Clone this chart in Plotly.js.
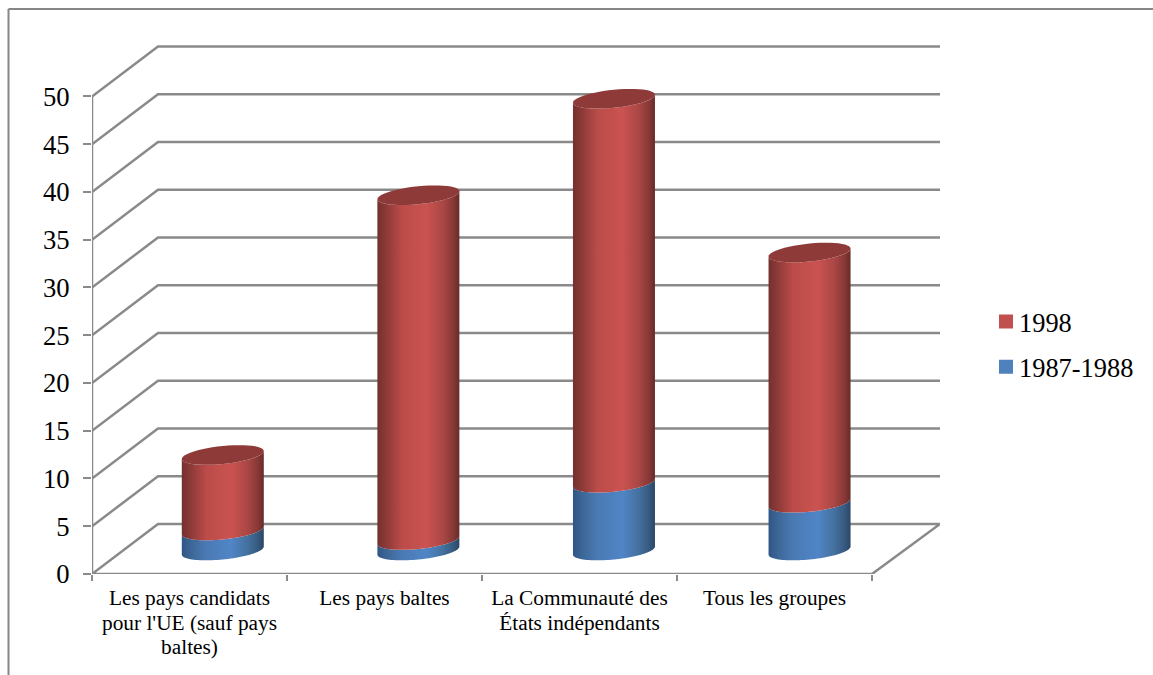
<!DOCTYPE html>
<html><head><meta charset="utf-8">
<script src="https://cdn.plot.ly/plotly-3.0.1.min.js"></script>
<style>html,body{margin:0;padding:0;background:#fff;overflow:hidden}#chart{width:1153px;height:675px}</style>
</head><body><div id="chart"></div>
<script>
const categories = ["Les pays candidats<br>pour l'UE (sauf pays<br>baltes)", "Les pays baltes", "La Communauté des<br>États indépendants", "Tous les groupes"];
const seriesNames = ["1998", "1987-1988"];
const values1998 = [7.9, 36.1, 40.2, 26.2];
const values1987 = [2.1, 1.1, 7.1, 5.0];
const yTicks = [0, 5, 10, 15, 20, 25, 30, 35, 40, 45, 50];

const W = 1153, H = 675, L = 92, R = 940, T = 44.5, B = 574;
const xMax = (R - L) / 195, yMax = (B - T) / 9.56;
const depthX = 66 / 195, depthY = 50 / 9.56;
const grey = '#8a8a8a', fontFam = '"Liberation Serif","Times New Roman",serif';
const traces = [];
const lineTrace = (x, y) => ({type:'scatter', mode:'lines', x, y, line:{color:grey, width:2.5}, hoverinfo:'skip', showlegend:false});

yTicks.forEach(v => {
  if (v === 0) traces.push(lineTrace([0, depthX, xMax, categories.length, 0], [0, depthY, depthY, 0, 0]));
  else traces.push(lineTrace([0, depthX, xMax], [v, v + depthY, v + depthY]));
});
traces.push(lineTrace([0, 0], [0, yTicks[yTicks.length - 1]]));

const rx = 41 / 195, ry = 9 / 9.56, skew = 4 / 9.56, baseY = depthY * 0.47;
const redScale = [[0,'#73302e'],[0.12,'#8f3b39'],[0.3,'#bb4c49'],[0.6,'#ca5350'],[0.8,'#aa4745'],[0.93,'#863836'],[1,'#672b29']];
const blueScale = [[0,'#2f5685'],[0.12,'#3d6798'],[0.3,'#4a7ab4'],[0.6,'#5085c6'],[0.8,'#44719f'],[0.93,'#37597f'],[1,'#294766']];
const arc = (cx, cy, from, to) => {
  const xs = [], ys = [];
  for (let i = 0; i <= 48; i++) {
    const t = from + (to - from) * i / 48;
    xs.push(cx + rx * Math.cos(t));
    ys.push(cy + ry * Math.sin(t) + skew * Math.cos(t));
  }
  return [xs, ys];
};
const body = (cx, y0, y1, scale, name) => {
  const [bx, by] = arc(cx, y0, Math.PI, 2 * Math.PI);
  const [tx, ty] = arc(cx, y1, 2 * Math.PI, Math.PI);
  return {type:'scatter', mode:'none', x:[...bx, ...tx, bx[0]], y:[...by, ...ty, by[0]], fill:'toself',
    fillcolor:scale[3][1], fillgradient:{type:'horizontal', colorscale:scale}, name, showlegend:false, hoverinfo:'skip'};
};
categories.forEach((c, i) => {
  const cx = (i + 0.5) * 1.003 + depthX / 2;
  const top1 = baseY + values1987[i], top2 = top1 + values1998[i];
  traces.push(body(cx, baseY, top1, blueScale, seriesNames[1]));
  traces.push(body(cx, top1, top2, redScale, seriesNames[0]));
  const [ex, ey] = arc(cx, top2, 0, 2 * Math.PI);
  traces.push({type:'scatter', mode:'none', x:ex, y:ey, fill:'toself', fillcolor:'#8e3a38', showlegend:false, hoverinfo:'skip'});
});
traces.push({type:'bar', x:[null], y:[null], name:seriesNames[0], marker:{color:'#c0504d'}, legendgroup:'a', hoverinfo:'skip'});
traces.push({type:'bar', x:[null], y:[null], name:seriesNames[1], marker:{color:'#4f81bd'}, legendgroup:'b', hoverinfo:'skip'});

const px = v => (v - L) / (R - L), py = v => (B - v) / (B - T);
const layout = {
  width:W, height:H, paper_bgcolor:'#fff', plot_bgcolor:'#fff', showlegend:true,
  margin:{l:L, r:W - R, t:T, b:H - B, pad:0},
  font:{family:fontFam, color:'#000'},
  xaxis:{range:[0, xMax], showgrid:false, zeroline:false, showline:false, fixedrange:true,
    tickmode:'array', tickvals:categories.map((c, i) => i + 0.5), ticktext:categories, ticks:'', tickangle:0,
    tickfont:{size:21.33, family:fontFam, color:'#000'}, ticklabelstandoff:9,
    minor:{tickmode:'array', tickvals:[0,1,2,3,4], ticks:'outside', ticklen:6, tickwidth:2, tickcolor:grey, showgrid:false}},
  yaxis:{range:[0, yMax], showgrid:false, zeroline:false, showline:false, fixedrange:true,
    tickmode:'array', tickvals:yTicks, ticktext:yTicks.map(String), ticks:'outside', ticklen:8, tickwidth:2, tickcolor:grey,
    tickfont:{size:26.67, family:fontFam, color:'#000'}, ticklabelstandoff:8},
  legend:{x:px(979), xanchor:'left', y:py(344), yanchor:'middle', bgcolor:'rgba(0,0,0,0)', borderwidth:0,
    font:{size:26.4, family:fontFam, color:'#000'}, traceorder:'grouped', tracegroupgap:8, itemclick:false, itemdoubleclick:false},
  shapes:[
    {type:'line', xref:'paper', yref:'paper', x0:px(8.5), x1:px(1153), y0:py(8.5), y1:py(8.5), line:{color:'#868686', width:2}},
    {type:'line', xref:'paper', yref:'paper', x0:px(8.5), x1:px(8.5), y0:py(8.5), y1:py(675), line:{color:'#868686', width:2}}
  ]
};
Plotly.newPlot('chart', traces, layout, {displayModeBar:false}).then(() => {
  document.querySelectorAll('#chart .legend .legendpoints path').forEach(p => {
    p.setAttribute('d', 'M7,7H-7V-7H7Z');
    p.setAttribute('transform', 'translate(27,0)');
  });
  document.querySelectorAll('#chart .xtick text tspan.line').forEach(t => {
    const dy = parseFloat(t.getAttribute('dy')) || 0;
    t.setAttribute('dy', (dy / 1.3 * 1.15) + 'em');
  });
});
</script></body></html>
